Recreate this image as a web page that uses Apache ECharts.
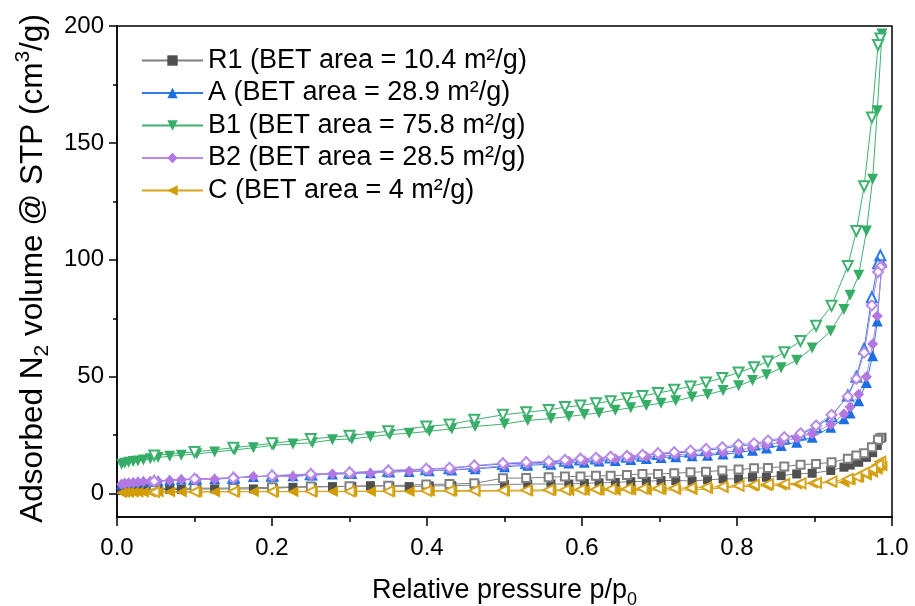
<!DOCTYPE html>
<html>
<head>
<meta charset="utf-8">
<script src="https://cdn.jsdelivr.net/npm/echarts@6/dist/echarts.min.js"></script>
<style>
  html, body { margin: 0; padding: 0; background: #fff; }
  #chart { width: 915px; height: 606px; }
</style>
</head>
<body>
<div id="chart"></div>
<script>
// Relative pressure points of the adsorption and desorption branches
const adsP = [0.006, 0.010, 0.015, 0.021, 0.027, 0.034, 0.043, 0.053, 0.068, 0.083, 0.103, 0.126, 0.152, 0.176, 0.202, 0.227, 0.252, 0.278, 0.303, 0.327, 0.352, 0.377, 0.403, 0.432, 0.462, 0.500, 0.530, 0.560, 0.583, 0.603, 0.622, 0.643, 0.663, 0.683, 0.702, 0.721, 0.742, 0.762, 0.782, 0.802, 0.820, 0.838, 0.857, 0.877, 0.897, 0.921, 0.938, 0.946, 0.957, 0.967, 0.975, 0.981, 0.987];
const desP = [0.985, 0.982, 0.974, 0.964, 0.954, 0.943, 0.922, 0.902, 0.882, 0.861, 0.840, 0.822, 0.802, 0.781, 0.760, 0.740, 0.719, 0.698, 0.678, 0.658, 0.637, 0.618, 0.598, 0.578, 0.557, 0.528, 0.498, 0.461, 0.429, 0.399, 0.350, 0.300, 0.250, 0.200, 0.150, 0.100, 0.048];

// Adsorbed volume (cm3/g STP), adsorption branch
const r1Ads = [1.3, 1.4, 1.5, 1.6, 1.6, 1.6, 1.7, 1.7, 1.8, 1.8, 1.9, 2.0, 2.0, 2.0, 2.3, 2.7, 2.8, 3.0, 3.1, 3.4, 3.2, 3.0, 3.3, 3.4, 3.6, 3.9, 4.1, 4.1, 4.1, 4.4, 4.6, 4.8, 5.1, 5.3, 5.6, 5.6, 5.4, 5.9, 6.3, 6.3, 7.0, 7.0, 7.7, 8.4, 8.7, 9.9, 11.3, 12.2, 13.4, 15.5, 17.5, 20.6, 24.1];
const aAds = [4.2, 4.5, 4.7, 4.9, 5.1, 5.3, 5.4, 5.5, 5.8, 6.1, 6.2, 6.4, 6.8, 7.3, 7.5, 7.6, 8.0, 8.4, 8.6, 8.9, 9.2, 9.5, 9.8, 10.1, 10.6, 11.5, 12.1, 12.6, 13.1, 13.4, 13.9, 14.2, 14.6, 15.0, 15.4, 15.8, 16.2, 16.4, 16.9, 17.5, 18.5, 19.5, 20.6, 22.0, 24.1, 28.4, 32.0, 34.5, 39.7, 47.5, 59.0, 73.8, 99.0];
const b1Ads = [12.6, 13.0, 13.4, 13.7, 13.9, 14.4, 14.9, 15.4, 16.0, 16.4, 17.0, 17.8, 18.7, 19.6, 20.7, 21.2, 21.8, 23.0, 23.4, 24.3, 25.3, 25.8, 26.7, 27.7, 28.7, 29.8, 31.3, 32.1, 33.0, 33.8, 34.5, 35.7, 36.7, 37.7, 38.7, 39.7, 41.3, 42.4, 44.1, 46.1, 48.4, 50.8, 53.8, 57.0, 62.3, 69.6, 78.7, 84.8, 93.4, 112.3, 134.5, 163.7, 196.6];
const b2Ads = [4.0, 4.3, 4.5, 4.7, 4.9, 5.1, 5.2, 5.3, 5.6, 5.9, 6.0, 6.1, 6.7, 7.3, 7.3, 7.3, 7.9, 8.4, 8.5, 8.7, 9.3, 9.6, 9.9, 10.3, 10.8, 12.0, 12.7, 13.1, 13.8, 14.1, 14.6, 14.9, 15.3, 15.8, 16.1, 16.6, 16.8, 17.0, 17.7, 18.4, 19.8, 20.8, 22.0, 23.8, 25.6, 29.6, 34.1, 37.0, 42.5, 50.0, 64.0, 76.0, 97.6];
const cAds = [0.4, 0.5, 0.5, 0.6, 0.6, 0.6, 0.6, 0.7, 0.7, 0.7, 0.7, 0.7, 0.8, 0.8, 0.8, 0.8, 0.8, 0.9, 0.9, 0.9, 0.9, 0.9, 1.0, 1.0, 1.0, 1.1, 1.1, 1.2, 1.2, 1.3, 1.3, 1.3, 1.4, 1.4, 1.5, 1.5, 1.6, 2.0, 2.4, 3.0, 3.1, 3.4, 3.6, 4.0, 4.4, 4.8, 4.9, 5.8, 6.9, 7.9, 9.0, 10.3, 11.8];

// Desorption branch
const r1Des = [23.8, 23.0, 19.8, 17.3, 16.3, 14.9, 13.4, 12.7, 12.4, 11.6, 11.0, 10.8, 10.3, 9.9, 9.4, 9.1, 8.7, 8.4, 8.4, 8.0, 7.6, 7.6, 7.3, 7.3, 7.0, 6.7, 6.6, 4.4, 4.1, 3.9, 3.4, 3.1, 3.0, 2.7, 2.4, 2.3, 2.2];
const aDes = [101.9, 98.5, 84.0, 62.0, 50.0, 42.0, 33.0, 28.5, 25.3, 23.6, 22.2, 21.0, 20.4, 19.3, 18.6, 17.9, 17.3, 16.9, 16.2, 15.8, 15.5, 15.0, 14.6, 14.1, 13.5, 13.1, 12.7, 11.8, 10.8, 10.4, 9.7, 8.9, 8.3, 7.6, 6.7, 6.2, 5.4];
const b1Des = [194.7, 191.9, 160.9, 131.5, 112.3, 97.4, 80.3, 71.8, 65.3, 60.5, 56.5, 54.1, 51.8, 49.5, 47.5, 45.8, 44.4, 43.0, 41.7, 40.8, 39.5, 38.7, 37.7, 37.0, 35.8, 34.8, 33.7, 31.6, 29.6, 28.7, 26.7, 24.8, 23.4, 21.5, 19.6, 17.8, 16.3];
const b2Des = [96.9, 94.8, 80.5, 60.3, 49.1, 41.5, 33.7, 29.1, 25.8, 24.1, 22.7, 21.5, 21.0, 19.8, 19.1, 18.4, 17.7, 17.3, 16.6, 16.1, 15.8, 15.3, 14.9, 14.4, 13.8, 13.4, 13.0, 12.0, 11.0, 10.6, 9.9, 9.0, 8.4, 7.7, 6.7, 6.3, 5.3];
const cDes = [13.7, 12.3, 10.6, 9.0, 7.3, 6.3, 5.2, 4.6, 4.4, 4.2, 4.1, 3.8, 3.4, 3.0, 2.7, 2.4, 2.3, 2.2, 2.1, 2.0, 1.9, 1.8, 1.7, 1.6, 1.6, 1.5, 1.4, 1.3, 1.3, 1.2, 1.1, 1.0, 1.0, 0.9, 0.9, 0.8, 0.7];

// Legend names
const names = [
  'R1 (BET area = 10.4 m²/g)',
  'A (BET area = 28.9 m²/g)',
  'B1 (BET area = 75.8 m²/g)',
  'B2 (BET area = 28.5 m²/g)',
  'C (BET area = 4 m²/g)'
];
const yTicks = [0, 50, 100, 150, 200];
const yMinorTicks = [25, 75, 125, 175];

const FONT = 'Liberation Sans, Arial, sans-serif';

const samples = [
  { name: names[0], ads: r1Ads, des: r1Des, marker: '#505050', line: '#808080', symbol: 'rect', rot: 0, size: 9, dsize: 8 },
  { name: names[1], ads: aAds, des: aDes, marker: '#1c6fe0', line: '#2f7be6', symbol: 'triangle', rot: 0, size: 11, dsize: 10 },
  { name: names[2], ads: b1Ads, des: b1Des, marker: '#36ad66', line: '#3fb26f', symbol: 'triangle', rot: 180, size: 11, dsize: 10 },
  { name: names[3], ads: b2Ads, des: b2Des, marker: '#b277e2', line: '#b98ae6', symbol: 'diamond', rot: 0, size: 11, dsize: 10 },
  { name: names[4], ads: cAds, des: cDes, marker: '#d29d02', line: '#d6a520', symbol: 'triangle', rot: 90, size: 11, dsize: 10 }
];

const pairs = (xs, ys) => xs.map((x, i) => [x, ys[i]]);

const series = [];
samples.forEach(s => {
  series.push({
    name: s.name, type: 'line', xAxisIndex: 0, yAxisIndex: 0,
    data: pairs(adsP, s.ads),
    symbol: s.symbol, symbolRotate: s.rot, symbolSize: s.size,
    lineStyle: { color: s.line, width: 1 },
    itemStyle: { color: s.marker, borderWidth: 0 },
    emphasis: { disabled: true }, z: 3
  });
  series.push({
    name: s.name, type: 'line', xAxisIndex: 0, yAxisIndex: 0,
    data: pairs(desP, s.des),
    symbol: 'empty' + s.symbol.charAt(0).toUpperCase() + s.symbol.slice(1),
    symbolRotate: s.rot, symbolSize: s.dsize,
    lineStyle: { color: s.line, width: 1 },
    itemStyle: { color: s.line, borderWidth: 1.2 },
    emphasis: { disabled: true }, z: 3
  });
});

const chart = echarts.init(document.getElementById('chart'), null, { renderer: 'canvas' });
chart.setOption({
  animation: false,
  backgroundColor: '#fff',
  grid: { left: 117, right: 23, top: 26, bottom: 89, show: true, borderColor: '#000', borderWidth: 1.5,
          containLabel: false, outerBoundsMode: 'none' },
  legend: {
    data: names, orient: 'vertical', left: 136, top: 42, itemWidth: 61, itemHeight: 13, itemGap: 5.5,
    textStyle: { fontFamily: FONT, fontSize: 27, color: '#000' }, selectedMode: false
  },
  xAxis: [{
    type: 'value', min: 0, max: 1, interval: 0.2,
    name: '{a|Relative pressure p/p}{s|0}', nameLocation: 'middle', nameGap: 56,
    nameTextStyle: { fontFamily: FONT, color: '#000', rich: {
      a: { fontFamily: FONT, fontSize: 27, color: '#000', lineHeight: 36, verticalAlign: 'middle' },
      s: { fontFamily: FONT, fontSize: 18, color: '#000', lineHeight: 18, verticalAlign: 'bottom' } } },
    axisLine: { show: true, onZero: false, lineStyle: { color: '#000', width: 1.5 } },
    axisTick: { show: true, length: 9, lineStyle: { color: '#000', width: 1.5 } },
    minorTick: { show: true, splitNumber: 2, length: 5, lineStyle: { color: '#000', width: 1.5 } },
    axisLabel: { fontFamily: FONT, fontSize: 24, color: '#000', margin: 19, formatter: v => v.toFixed(1) },
    splitLine: { show: false }
  }],
  yAxis: [{
    type: 'value', min: -10, max: 200,
    name: '{a|Adsorbed N}{s|2}{a| volume @ STP (cm}{p|3}{a|/g)}', nameLocation: 'middle', nameGap: 64, nameRotate: 90,
    nameTextStyle: { fontFamily: FONT, color: '#000', padding: [0, 0, 0, 6], rich: {
      a: { fontFamily: FONT, fontSize: 31.5, color: '#000', lineHeight: 40, verticalAlign: 'middle' },
      s: { fontFamily: FONT, fontSize: 21, color: '#000', lineHeight: 20, verticalAlign: 'bottom' },
      p: { fontFamily: FONT, fontSize: 21, color: '#000', lineHeight: 26, verticalAlign: 'top' } } },
    axisLine: { show: true, onZero: false, lineStyle: { color: '#000', width: 1.5 } },
    axisTick: { show: true, length: 8, customValues: yTicks, lineStyle: { color: '#000', width: 1.5 } },
    axisLabel: { fontFamily: FONT, fontSize: 24, color: '#000', margin: 13, customValues: yTicks },
    splitLine: { show: false }
  }, {
    // minor ticks of the volume axis
    type: 'value', min: -10, max: 200, position: 'left',
    axisLine: { show: false },
    axisTick: { show: true, length: 4, customValues: yMinorTicks, lineStyle: { color: '#000', width: 1.5 } },
    axisLabel: { show: false, customValues: yMinorTicks },
    splitLine: { show: false }
  }],
  series: series
});
</script>
</body>
</html>
